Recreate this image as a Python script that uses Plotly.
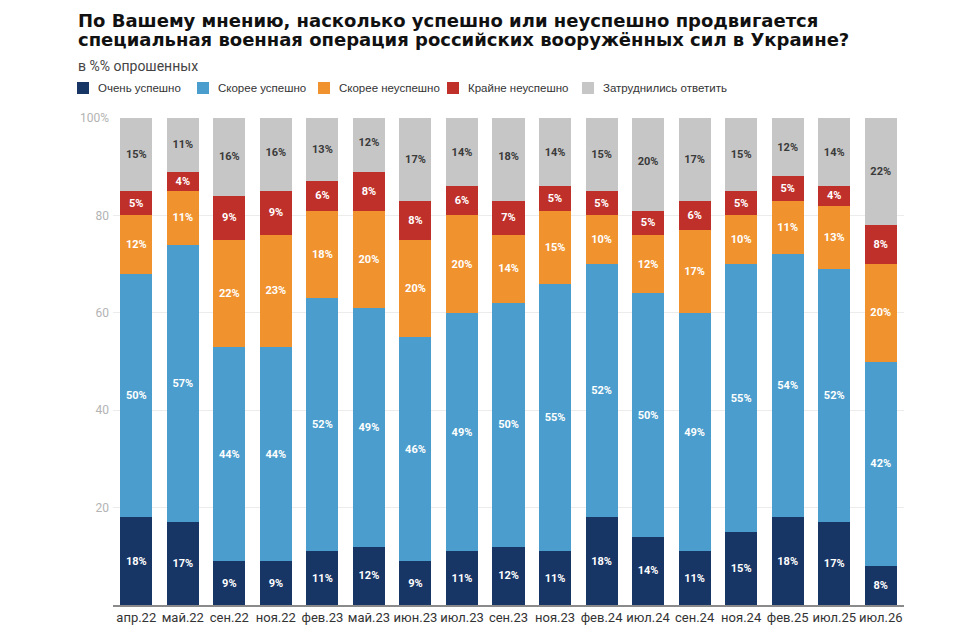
import plotly.graph_objects as go

periods = ["апр.22", "май.22", "сен.22", "ноя.22", "фев.23", "май.23", "июн.23", "июл.23", "сен.23",
           "ноя.23", "фев.24", "июл.24", "сен.24", "ноя.24", "фев.25", "июл.25", "июл.26"]

very_success = [18, 17, 9, 9, 11, 12, 9, 11, 12, 11, 18, 14, 11, 15, 18, 17, 8]
rather_success = [50, 57, 44, 44, 52, 49, 46, 49, 50, 55, 52, 50, 49, 55, 54, 52, 42]
rather_fail = [12, 11, 22, 23, 18, 20, 20, 20, 14, 15, 10, 12, 17, 10, 11, 13, 20]
very_fail = [5, 4, 9, 9, 6, 8, 8, 6, 7, 5, 5, 5, 6, 5, 5, 4, 8]
hard_to_say = [15, 11, 16, 16, 13, 12, 17, 14, 18, 14, 15, 20, 17, 15, 12, 14, 22]

series = [
    ("Очень успешно", very_success, "#173565", "white"),
    ("Скорее успешно", rather_success, "#4a9dcc", "white"),
    ("Скорее неуспешно", rather_fail, "#f0932f", "white"),
    ("Крайне неуспешно", very_fail, "#bf302b", "white"),
    ("Затруднились ответить", hard_to_say, "#c6c6c6", "#3a3a3a"),
]

# plot area in screen pixels (page has an 8px body margin)
PX_L, PX_R, PX_T, PX_B = 113, 904, 118, 605


def px_x(x):
    return (x - PX_L) / (PX_R - PX_L)


def px_y(y):
    return (PX_B - y) / (PX_B - PX_T)


fig = go.Figure()

for name, vals, color, txt_color in series:
    fig.add_trace(go.Bar(
        x=periods, y=vals, name=name,
        marker=dict(color=color, line=dict(width=0)),
        text=[f"{v}%" for v in vals],
        textposition="inside", insidetextanchor="middle",
        textfont=dict(family="Roboto", size=11, color=txt_color, weight="bold"),
        width=0.69,
        showlegend=False,
    ))

fig.update_layout(
    width=960, height=636,
    barmode="stack",
    plot_bgcolor="white", paper_bgcolor="white",
    margin=dict(l=PX_L - 8, r=960 - (PX_R - 8), t=PX_T - 8, b=636 - (PX_B - 8)),
    xaxis=dict(
        showline=True, linecolor="#8a8a8a", linewidth=1.5,
        ticks="", tickfont=dict(family="Roboto", size=13, color="#333333"),
        range=[-0.5, 16.5], automargin=False,
    ),
    yaxis=dict(
        range=[0, 100],
        tickvals=[20, 40, 60, 80, 100],
        ticktext=["20", "40", "60", "80", "100%"],
        tickfont=dict(family="Roboto", size=12, color="#b3b3b3"),
        gridcolor="#ececec", zeroline=False,
        ticklabelstandoff=3, automargin=False,
    ),
)

# title, two lines
title_lines = [
    ("По Вашему мнению, насколько успешно или неуспешно продвигается", 20),
    ("специальная военная операция российских вооружённых сил в Украине?", 40),
]
for line, y in title_lines:
    fig.add_annotation(
        text=line, xref="paper", yref="paper",
        x=px_x(76), xanchor="left", y=px_y(y), yanchor="middle",
        showarrow=False,
        font=dict(family="DejaVu Sans", size=18, color="#111111", weight="bold"),
    )

fig.add_annotation(
    text="в %% опрошенных", xref="paper", yref="paper",
    x=px_x(76), xanchor="left", y=px_y(66), yanchor="middle",
    showarrow=False,
    font=dict(family="Roboto", size=14, color="#444444"),
)

# legend drawn by hand to match the compact spacing of the original
legend_px = [77, 197, 318, 447, 582]
for (name, vals, color, txt_color), lx in zip(series, legend_px):
    fig.add_shape(
        type="rect", xref="paper", yref="paper",
        x0=px_x(lx), x1=px_x(lx + 12), y0=px_y(94), y1=px_y(82),
        fillcolor=color, line=dict(width=0),
    )
    fig.add_annotation(
        text=name, xref="paper", yref="paper",
        x=px_x(lx + 19), xanchor="left", y=px_y(88), yanchor="middle",
        showarrow=False,
        font=dict(family="Liberation Sans", size=11.5, color="#333333"),
    )

fig.write_html("out.html")
